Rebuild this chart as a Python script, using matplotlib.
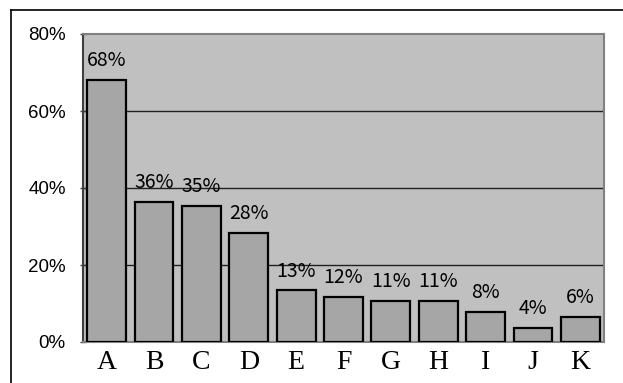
import matplotlib
matplotlib.use("Agg")
import matplotlib.pyplot as plt
from matplotlib.lines import Line2D
from matplotlib.ticker import FuncFormatter

categories = ["A", "B", "C", "D", "E", "F", "G", "H", "I", "J", "K"]
shares = [68.0, 36.4, 35.4, 28.3, 13.4, 11.7, 10.6, 10.6, 7.8, 3.6, 6.4]
y_ticks = [0, 20, 40, 60, 80]

DPI = 100
fig = plt.figure(figsize=(6.23, 3.83), dpi=DPI)
fig.patch.set_facecolor("white")

W, H = 623, 383
left, right, top, bottom = 83, 604, 34, 342
ax = fig.add_axes([left / W, (H - bottom) / H, (right - left) / W, (bottom - top) / H])
ax.set_facecolor("#c0c0c0")

x = list(range(len(categories)))
bars = ax.bar(x, shares, width=0.82, color="#a6a6a6", edgecolor="black",
              linewidth=1.6, zorder=3)

ax.set_xlim(-0.5, len(categories) - 0.5)
ax.set_ylim(0, 80)
ax.set_yticks(y_ticks)
ax.yaxis.set_major_formatter(FuncFormatter(lambda v, _: f"{v:.0f}%"))
ax.set_xticks(x)
ax.set_xticklabels(categories, family="Liberation Serif", fontsize=20)

for t in ax.get_yticklabels():
    t.set_family("Liberation Sans")
    t.set_fontsize(13.5)

ax.tick_params(axis="y", direction="inout", length=5, width=1, color="#404040", pad=10)
ax.tick_params(axis="x", length=0, pad=6)

# horizontal grid lines at 20/40/60
for v in y_ticks[1:-1]:
    ax.axhline(v, color="#202020", linewidth=1.0, zorder=1)

for side in ("top", "right", "bottom"):
    ax.spines[side].set_color("#808080")
    ax.spines[side].set_linewidth(1.5)
ax.spines["left"].set_color("#404040")
ax.spines["left"].set_linewidth(1.5)

# value labels above each bar
for xi, v in zip(x, shares):
    ax.annotate(f"{v:.0f}%", xy=(xi, v), xytext=(0, 10), textcoords="offset points",
                ha="center", va="baseline", fontsize=14,
                family=["Noto Sans CJK JP", "DejaVu Sans"])

# outer chart frame (top and left edges)
fig.add_artist(Line2D([11 / W, 1.0], [1 - 10 / H, 1 - 10 / H], transform=fig.transFigure,
                      color="black", linewidth=1.2))
fig.add_artist(Line2D([11 / W, 11 / W], [0.0, 1 - 10 / H], transform=fig.transFigure,
                      color="black", linewidth=1.2))

fig.savefig("out.png", dpi=DPI)
